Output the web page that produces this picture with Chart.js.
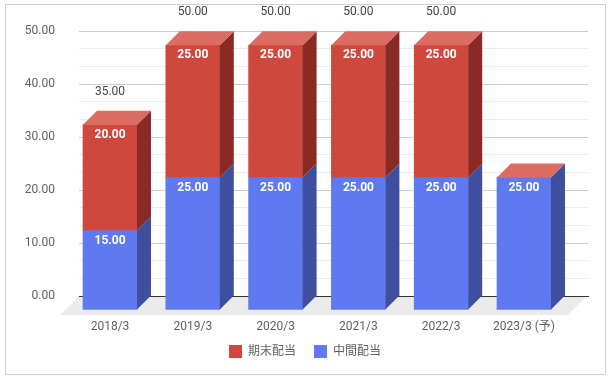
<!DOCTYPE html>
<html>
<head>
<meta charset="utf-8">
<script src="https://cdn.jsdelivr.net/npm/chart.js@4/dist/chart.umd.min.js"></script>
<style>
  html, body { margin: 0; padding: 0; background: #fff; }
  #wrap { position: relative; width: 613px; height: 382px; }
</style>
</head>
<body>
<div id="wrap"><canvas id="c" width="613" height="382"></canvas></div>
<script>
// ---- data ----
const categories = ['2018/3', '2019/3', '2020/3', '2021/3', '2022/3', '2023/3 (予)'];
const interimDividend = [15, 25, 25, 25, 25, 25];   // 中間配当
const yearEndDividend = [20, 25, 25, 25, 25, 0];    // 期末配当
const totalLabels = [35, 50, 50, 50, 50, null];     // totals shown above the bars
const seriesNames = ['中間配当', '期末配当'];

// ---- style ----
const FONT = "Roboto, 'Noto Sans CJK JP', sans-serif";
const DEPTH = 14;
const colors = {
  interim: { front: '#5f79f0', side: '#3e4fa0', top: '#8a9df5' },
  yearEnd: { front: '#cf483d', side: '#8a2a25', top: '#dc6b62' }
};

const toPoints = arr => arr.map((v, i) => ({ x: i, y: v }));

function barBox(bar) {
  const p = bar.getProps(['x', 'y', 'base', 'width'], true);
  return {
    x: p.x,
    x0: p.x - p.width / 2, x1: p.x + p.width / 2,
    yt: Math.min(p.y, p.base), yb: Math.max(p.y, p.base)
  };
}

const threeD = {
  id: 'threeD',
  beforeDraw(chart) {
    const { ctx, chartArea: a } = chart;
    ctx.save();
    ctx.fillStyle = '#ffffff';
    ctx.fillRect(0, 0, chart.width, chart.height);
    ctx.strokeStyle = '#d0d0d0';
    ctx.lineWidth = 1;
    ctx.strokeRect(5.5, 4.5, 600, 370);
    // floor
    const y0 = chart.scales.y.getPixelForValue(0);
    ctx.fillStyle = '#ebebeb';
    ctx.beginPath();
    ctx.moveTo(a.left, y0);
    ctx.lineTo(a.right - 1, y0);
    ctx.lineTo(a.right - 20, y0 + 19);
    ctx.lineTo(a.left - 19, y0 + 19);
    ctx.closePath();
    ctx.fill();
    ctx.restore();
  },
  beforeDatasetDraw(chart) {
    chart.ctx.save();
    chart.ctx.translate(-DEPTH, DEPTH);
  },
  afterDatasetDraw(chart) {
    chart.ctx.restore();
  },
  afterDatasetsDraw(chart) {
    const { ctx } = chart;
    const n = chart.data.datasets.length;
    ctx.save();
    ctx.translate(-DEPTH, DEPTH);
    // side faces
    chart.data.datasets.forEach((ds, di) => {
      chart.getDatasetMeta(di).data.forEach(bar => {
        const b = barBox(bar);
        if (b.yb - b.yt <= 0) return;
        ctx.fillStyle = ds.faceColors.side;
        ctx.beginPath();
        ctx.moveTo(b.x1, b.yb);
        ctx.lineTo(b.x1 + DEPTH, b.yb - DEPTH);
        ctx.lineTo(b.x1 + DEPTH, b.yt - DEPTH);
        ctx.lineTo(b.x1, b.yt);
        ctx.closePath();
        ctx.fill();
      });
    });
    // top faces (top of each stack)
    const topDs = chart.data.datasets[n - 1];
    chart.getDatasetMeta(n - 1).data.forEach(bar => {
      const b = barBox(bar);
      ctx.fillStyle = topDs.faceColors.top;
      ctx.beginPath();
      ctx.moveTo(b.x0, b.yt);
      ctx.lineTo(b.x1, b.yt);
      ctx.lineTo(b.x1 + DEPTH, b.yt - DEPTH);
      ctx.lineTo(b.x0 + DEPTH, b.yt - DEPTH);
      ctx.closePath();
      ctx.fill();
    });
    // value labels
    ctx.textAlign = 'center';
    ctx.textBaseline = 'middle';
    chart.data.datasets.forEach((ds, di) => {
      chart.getDatasetMeta(di).data.forEach((bar, i) => {
        const v = ds.data[i].y;
        if (!v) return;
        const b = barBox(bar);
        ctx.fillStyle = '#ffffff';
        ctx.font = 'bold 12px ' + FONT;
        ctx.fillText(v.toFixed(2), b.x, b.yt + 10);
      });
    });
    // totals
    chart.getDatasetMeta(n - 1).data.forEach((bar, i) => {
      const t = totalLabels[i];
      if (t == null) return;
      const x = bar.getProps(['x'], true).x;
      const y = chart.scales.y.getPixelForValue(t) - 33;
      ctx.fillStyle = '#444444';
      ctx.font = '12px ' + FONT;
      ctx.fillText(t.toFixed(2), x, y);
    });
    ctx.restore();
  }
};

new Chart(document.getElementById('c'), {
  type: 'bar',
  data: {
    datasets: [
      {
        label: seriesNames[0],
        data: toPoints(interimDividend),
        backgroundColor: colors.interim.front,
        faceColors: colors.interim,
        clip: false,
        barThickness: 54
      },
      {
        label: seriesNames[1],
        data: toPoints(yearEndDividend),
        backgroundColor: colors.yearEnd.front,
        faceColors: colors.yearEnd,
        clip: false,
        barThickness: 54
      }
    ]
  },
  options: {
    responsive: false,
    devicePixelRatio: 1,
    animation: false,
    layout: { padding: { top: 29.33, right: 25, left: 22, bottom: 14 } },
    plugins: {
      tooltip: { enabled: false },
      legend: {
        position: 'bottom',
        reverse: true,
        labels: {
          boxWidth: 13, boxHeight: 13, padding: 18,
          color: '#5f5f5f', font: { family: FONT, size: 12 }
        }
      }
    },
    scales: {
      x: {
        type: 'linear',
        stacked: true,
        offset: false,
        min: -0.5435,
        max: 5.604,
        grid: { display: false, drawTicks: false },
        border: { display: true, color: '#333333' },
        afterFit: s => { s.height = 31; },
        ticks: {
          stepSize: 1,
          autoSkip: false,
          includeBounds: false,
          maxRotation: 0,
          mirror: true,
          labelOffset: -DEPTH,
          padding: -38,
          color: '#5f5f5f',
          font: { family: FONT, size: 12 },
          callback: v => Number.isInteger(v) ? categories[v] : ''
        }
      },
      y: {
        stacked: true,
        min: 0,
        max: 50,
        afterFit: s => { s.width = 57; },
        border: { display: false },
        grid: {
          drawTicks: false,
          color: c => {
            const v = c.tick.value;
            if (Math.abs(v) < 1e-6) return '#333333';
            return Math.abs(v / 10 - Math.round(v / 10)) < 1e-6 ? '#cccccc' : '#ebebeb';
          }
        },
        ticks: {
          stepSize: 10 / 3,
          autoSkip: false,
          padding: 24,
          color: '#5f5f5f',
          font: { family: FONT, size: 12 },
          callback: v => Math.abs(v / 10 - Math.round(v / 10)) < 1e-6 ? Math.round(v).toFixed(2) : ''
        }
      }
    }
  },
  plugins: [threeD]
});
</script>
</body>
</html>
